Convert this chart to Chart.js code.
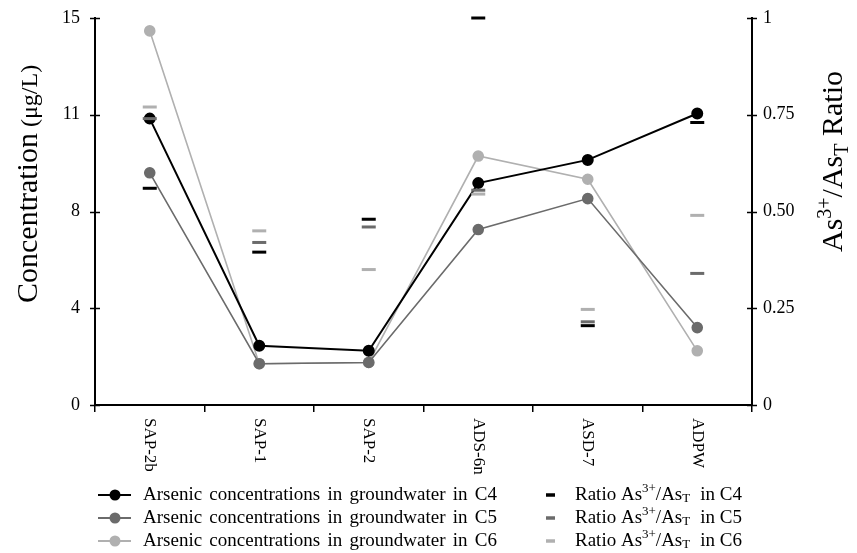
<!DOCTYPE html>
<html>
<head>
<meta charset="utf-8">
<script src="https://cdn.jsdelivr.net/npm/chart.js@4.4.1/dist/chart.umd.min.js"></script>
<style>
html, body { margin: 0; padding: 0; background: #fff; }
#wrap { width: 857px; height: 553px; }
</style>
</head>
<body>
<div id="wrap"><canvas id="asChart" width="857" height="553"></canvas></div>
<script>
// values
const sites = ['SAP-2b', 'SAP-1', 'SAP-2', 'ADS-6n', 'ASD-7', 'ADPW'];
const concC4 = [11.1, 2.3, 2.1, 8.6, 9.5, 11.3];
const concC5 = [9.0, 1.6, 1.65, 6.8, 8.0, 3.0];
const concC6 = [14.5, 1.6, 1.65, 9.65, 8.75, 2.1];
const ratioC4 = [0.56, 0.395, 0.48, 1.0, 0.205, 0.73];
const ratioC5 = [0.74, 0.42, 0.46, 0.555, 0.215, 0.34];
const ratioC6 = [0.77, 0.45, 0.35, 0.545, 0.247, 0.49];
const concTicks = ['0', '4', '8', '11', '15'];
const ratioTicks = ['0', '0.25', '0.50', '0.75', '1'];

const colC4 = '#000000';
const colC5 = '#6b6b6b';
const colC6 = '#b0b0b0';
const serif = '"Liberation Serif", "Times New Roman", serif';

Chart.defaults.font.family = serif;
Chart.defaults.font.size = 18;
Chart.defaults.color = '#000';

function concSet(label, data, color, width, order) {
    return {
        label: label,
        data: data,
        yAxisID: 'yConc',
        borderColor: color,
        backgroundColor: color,
        borderWidth: width,
        pointRadius: 5,
        pointBackgroundColor: color,
        pointBorderColor: color,
        tension: 0,
        clip: false,
        order: order
    };
}

function ratioSet(label, data, color, order) {
    return {
        label: label,
        data: data,
        yAxisID: 'yRatio',
        showLine: false,
        pointStyle: 'line',
        pointRadius: 7,
        pointBorderWidth: 3,
        pointBorderColor: color,
        borderColor: color,
        backgroundColor: color,
        clip: false,
        order: order
    };
}

// draws text made of normal / sup / sub parts, returns width
function richText(ctx, parts, x, y, size) {
    let cx = x;
    parts.forEach(([t, kind]) => {
        const s = kind === 'n' ? size : Math.round(size * 0.66);
        ctx.font = s + 'px ' + serif;
        const dy = kind === 'sup' ? -size * 0.36 : (kind === 'sub' ? size * 0.2 : 0);
        ctx.fillText(t, cx, y + dy);
        cx += ctx.measureText(t).width;
    });
    return cx - x;
}

// fixed axis box sizes so the plot area sits where the figure has it
function fixY(width) {
    return scale => {
        scale.width = width;
        scale.paddingTop = 0;
        scale.paddingBottom = 0;
    };
}

const decorPlugin = {
    id: 'decor',
    afterDraw(chart) {
        const ctx = chart.ctx;
        const xs = chart.scales.x;
        const yl = chart.scales.yConc;
        const yr = chart.scales.yRatio;
        ctx.save();
        ctx.fillStyle = '#000';
        ctx.strokeStyle = '#000';

        // y tick marks crossing the axes
        ctx.lineWidth = 1.5;
        yl.ticks.forEach(t => {
            const y = Math.round(yl.getPixelForValue(t.value)) + 0.5;
            ctx.beginPath(); ctx.moveTo(yl.right - 5, y); ctx.lineTo(yl.right + 5, y); ctx.stroke();
        });
        yr.ticks.forEach(t => {
            const y = Math.round(yr.getPixelForValue(t.value)) + 0.5;
            ctx.beginPath(); ctx.moveTo(yr.left - 5, y); ctx.lineTo(yr.left + 5, y); ctx.stroke();
        });

        // x labels, rotated clockwise
        ctx.font = '17px ' + serif;
        ctx.textAlign = 'left';
        ctx.textBaseline = 'middle';
        sites.forEach((s, i) => {
            ctx.save();
            ctx.translate(xs.getPixelForValue(i), 418);
            ctx.rotate(Math.PI / 2);
            ctx.fillText(s, 0, 0);
            ctx.restore();
        });

        // left axis title
        ctx.save();
        ctx.translate(37, 303);
        ctx.rotate(-Math.PI / 2);
        ctx.textBaseline = 'alphabetic';
        ctx.font = '30px ' + serif;
        ctx.fillText('Concentration', 0, 0);
        const w = ctx.measureText('Concentration').width;
        ctx.font = '24px ' + serif;
        ctx.fillText(' (μg/L)', w, 0);
        ctx.restore();

        // right axis title
        ctx.save();
        ctx.translate(842, 252);
        ctx.rotate(-Math.PI / 2);
        ctx.textBaseline = 'alphabetic';
        richText(ctx, [['As', 'n'], ['3+', 'sup'], ['/As', 'n'], ['T', 'sub'], [' Ratio', 'n']], 0, 0, 30);
        ctx.restore();

        // legend
        const rows = [495, 518, 541];
        const cols = [colC4, colC5, colC6];
        const names = ['C4', 'C5', 'C6'];
        ctx.textBaseline = 'middle';
        rows.forEach((y, i) => {
            ctx.strokeStyle = cols[i];
            ctx.fillStyle = cols[i];
            ctx.lineWidth = 2;
            ctx.beginPath(); ctx.moveTo(98, y); ctx.lineTo(131, y); ctx.stroke();
            ctx.beginPath(); ctx.arc(115, y, 5.5, 0, Math.PI * 2); ctx.fill();
            ctx.lineWidth = 3.5;
            ctx.beginPath(); ctx.moveTo(546, y); ctx.lineTo(555, y); ctx.stroke();

            ctx.fillStyle = '#000';
            // left label, words spread to the measured width
            ctx.font = '19px ' + serif;
            const words = ['Arsenic', 'concentrations', 'in', 'groundwater', 'in', names[i]];
            const total = words.reduce((a, wd) => a + ctx.measureText(wd).width, 0);
            const gap = (354 - total) / (words.length - 1);
            let cx = 143;
            words.forEach(wd => {
                ctx.fillText(wd, cx, y);
                cx += ctx.measureText(wd).width + gap;
            });
            // right label
            const rw = richText(ctx, [['Ratio As', 'n'], ['3+', 'sup'], ['/As', 'n'], ['T', 'sub']], 575, y, 19);
            ctx.font = '19px ' + serif;
            ctx.fillText('in ' + names[i], 575 + rw + 10, y);
        });
        ctx.restore();
    }
};

new Chart(document.getElementById('asChart'), {
    type: 'line',
    data: {
        labels: sites,
        datasets: [
            ratioSet('Ratio As3+/AsT in C4', ratioC4, colC4, 0),
            ratioSet('Ratio As3+/AsT in C5', ratioC5, colC5, 0),
            ratioSet('Ratio As3+/AsT in C6', ratioC6, colC6, 0),
            concSet('Arsenic concentrations in groundwater in C4', concC4, colC4, 2, 1),
            concSet('Arsenic concentrations in groundwater in C5', concC5, colC5, 1.6, 2),
            concSet('Arsenic concentrations in groundwater in C6', concC6, colC6, 1.6, 3)
        ]
    },
    options: {
        responsive: false,
        animation: false,
        layout: { padding: { top: 18, left: 0, right: 0, bottom: 0 } },
        plugins: {
            legend: { display: false },
            tooltip: { enabled: false }
        },
        scales: {
            x: {
                type: 'category',
                offset: true,
                grid: {
                    offset: true,
                    drawOnChartArea: false,
                    drawTicks: true,
                    tickLength: 7,
                    color: '#000',
                    lineWidth: 1.5
                },
                border: { display: true, color: '#000', width: 2 },
                ticks: { display: false },
                afterFit(scale) {
                    scale.height = 148;
                    scale.paddingLeft = 0;
                    scale.paddingRight = 0;
                }
            },
            yConc: {
                position: 'left',
                min: 0,
                max: 15,
                grid: { display: false, drawTicks: false },
                border: { display: true, color: '#000', width: 2 },
                ticks: {
                    stepSize: 3.75,
                    padding: 15,
                    callback: (v, i) => concTicks[i]
                },
                afterFit: fixY(95)
            },
            yRatio: {
                position: 'right',
                min: 0,
                max: 1,
                grid: { display: false, drawTicks: false },
                border: { display: true, color: '#000', width: 2 },
                ticks: {
                    stepSize: 0.25,
                    padding: 11,
                    callback: (v, i) => ratioTicks[i]
                },
                afterFit: fixY(105)
            }
        }
    },
    plugins: [decorPlugin]
});
</script>
</body>
</html>
